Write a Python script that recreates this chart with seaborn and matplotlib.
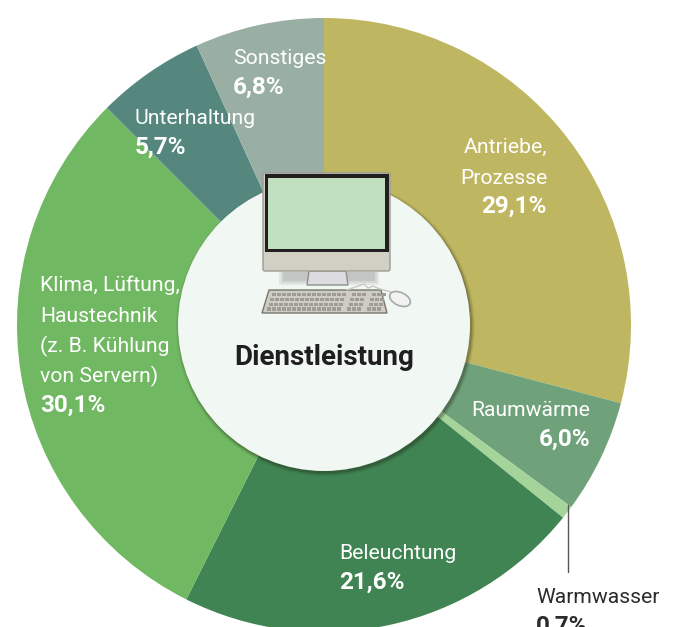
import matplotlib
matplotlib.use("Agg")
import matplotlib.pyplot as plt
from matplotlib.patches import Circle, FancyBboxPatch, Polygon, Rectangle, Ellipse
import seaborn as sns

# values, clockwise from the top
categories = ["Antriebe,\nProzesse", "Raumwärme", "Warmwasser", "Beleuchtung",
              "Klima, Lüftung,\nHaustechnik\n(z. B. Kühlung\nvon Servern)", "Unterhaltung", "Sonstiges"]
shares = [29.1, 6.0, 0.7, 21.6, 30.1, 5.7, 6.8]
share_labels = ["29,1%", "6,0%", "0,7%", "21,6%", "30,1%", "5,7%", "6,8%"]
colors = ["#BFB661", "#6FA27A", "#A5D49B", "#3F8452", "#71B862", "#55877F", "#99AFA3"]
center_title = "Dienstleistung"

# label anchor: x, baseline of first line, alignment, text colour
label_pos = [(547, 153, "right", "white"), (590, 416, "right", "white"), (536, 603, "left", "#2b2b2b"),
             (339, 559, "left", "white"), (40, 291, "left", "white"), (135, 124, "left", "white"),
             (233, 64, "left", "white")]

sns.set_theme(style="white")
plt.rcParams["font.family"] = ["Roboto", "DejaVu Sans"]

fig = plt.figure(figsize=(6.78, 6.27), dpi=100, facecolor="white")
ax = fig.add_axes([0, 0, 1, 1])

# y axis is flipped below, so counterclock=True runs clockwise on screen
ax.pie(shares, colors=colors, startangle=-90, counterclock=True, center=(324, 325), radius=307,
       wedgeprops=dict(linewidth=0), frame=True)
ax.set_xlim(0, 678)
ax.set_ylim(627, 0)
ax.set_aspect("equal")
ax.axis("off")

# soft shadow round the hub
for r, a in [(149.5, 0.05), (148.5, 0.08), (147.5, 0.12), (146.5, 0.16)]:
    ax.add_patch(Circle((325.5, 327), r, fc="#1c1c10", ec="none", alpha=a, zorder=3))
ax.add_patch(Circle((324, 325), 146, fc="#F1F7F2", ec="none", zorder=4))

# monitor
for grow, a in [(4, 0.12), (2, 0.15), (0, 0.2)]:
    ax.add_patch(Rectangle((283 - grow, 272), 92 + 2 * grow, 9 + grow, fc="#808080", ec="none", alpha=a, zorder=5))
ax.add_patch(Polygon([(309, 271), (346, 271), (348, 285), (307, 285)], fc="#dcdce0", ec="#8f8f8a", lw=1, zorder=6))
ax.add_patch(FancyBboxPatch((263, 173), 127, 98, boxstyle="round,pad=0,rounding_size=2", fc="#D2CFC4", ec="#9b9a92", lw=1, zorder=6))
ax.add_patch(Rectangle((264.5, 174), 124, 78, fc="#231F20", ec="none", zorder=7))
ax.add_patch(Rectangle((268, 178), 117, 71, fc="#C0E0BF", ec="none", zorder=8))

# keyboard
ax.add_patch(Polygon([(269, 290), (381, 290), (387, 313), (262, 313)], fc="#CFCDC3", ec="#77766e", lw=1, zorder=6))
for row in range(4):
    y = 293 + row * 4.8
    shift = (3 - row) * 1.5
    for key in range(23):
        x = 267 + shift + key * 5.0
        if key in (15, 19):
            continue
        ax.add_patch(Rectangle((x, y), 4, 3.4, fc="#9d9c95", ec="none", zorder=7))

# mouse
ax.plot([347, 358, 364, 368, 373, 380, 391], [290, 286, 284, 288, 286, 289, 292], color="#c8c8c4", lw=1, zorder=6)
ax.add_patch(Ellipse((400, 299), 22, 13, angle=25, fc="#f2f2f2", ec="#a8a8a4", lw=1.2, zorder=6))

ax.text(324, 365, center_title, fontsize=20, fontweight="bold", color="#1f1f1f", ha="center", va="baseline", zorder=9)

# wedge labels, name lines then bold share
line_h = 30.5
for name, share, (x, y, ha, col) in zip(categories, share_labels, label_pos):
    lines = name.split("\n")
    for i, line in enumerate(lines):
        ax.text(x, y + i * line_h, line, fontsize=15.2, color=col, ha=ha, va="baseline", zorder=9)
    ax.text(x, y + len(lines) * line_h - 1, share, fontsize=17.5, fontweight="bold", color=col, ha=ha, va="baseline", zorder=9)

# leader for the thin slice
ax.plot([568, 568], [505, 572], color="#555555", lw=1, zorder=9)

fig.savefig("out.png", dpi=100)
